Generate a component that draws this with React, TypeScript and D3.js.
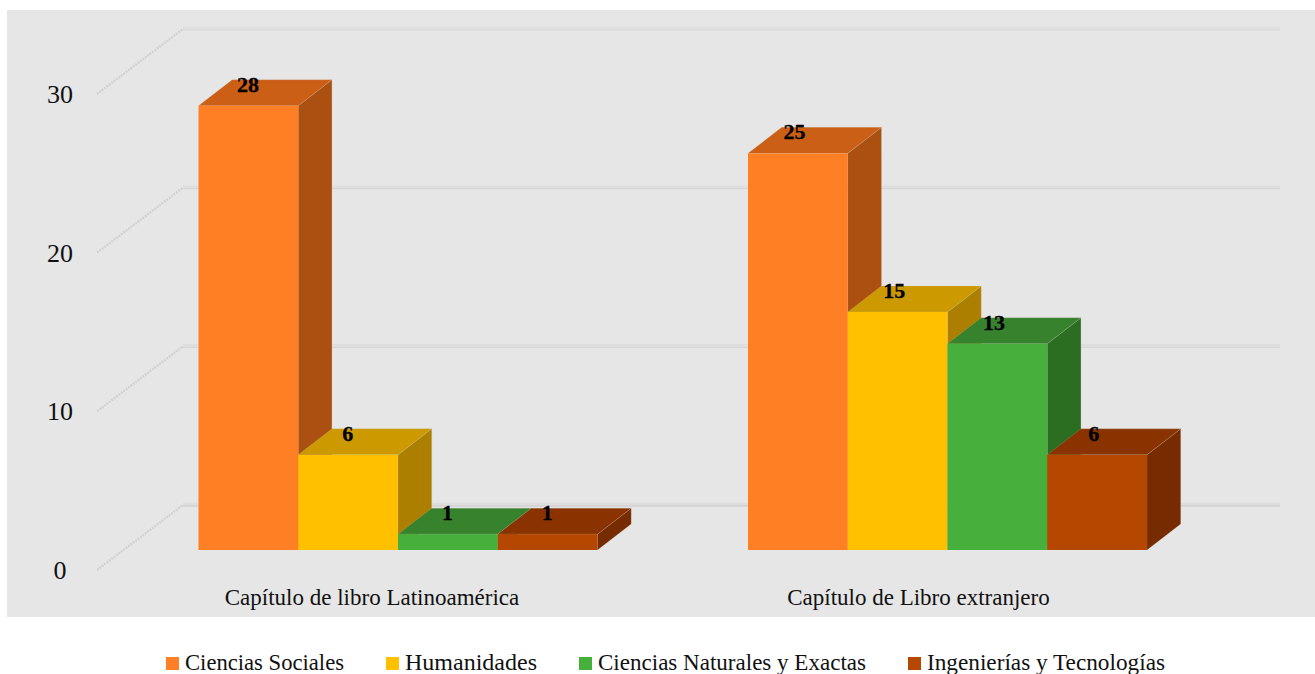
import React from "react";
import * as d3 from "d3";

const categories = ["Capítulo de libro Latinoamérica", "Capítulo de Libro extranjero"];
const seriesNames = ["Ciencias Sociales", "Humanidades", "Ciencias Naturales y Exactas", "Ingenierías y Tecnologías"];
const cienciasSociales = [28, 25];
const humanidades = [6, 15];
const cienciasNaturales = [1, 13];
const ingenierias = [1, 6];
const seriesValues = [cienciasSociales, humanidades, cienciasNaturales, ingenierias];
const yTicks = [0, 10, 20, 30];
const frontColors = ["#FF7F24", "#FFC000", "#47AF3C", "#B54700"];
const topColors = ["#CC5F16", "#CC9A00", "#37822C", "#8A3300"];
const sideColors = ["#AB5010", "#AD7F00", "#2B6E22", "#762B00"];
const legendSwatchX = [166, 386, 579, 908];
const legendTextWidths = [159, 132, 268, 238];
const labelShift = [0, -3];

const W = 1315;
const H = 674;
const FONT = "'Liberation Serif', serif";

const y = d3.scaleLinear().domain([0, 30]).range([550, 74]);
const groupX = d3.scalePoint<number>().domain([0, 1]).range([198.5, 748]);
const barX = d3.scaleBand<number>().domain([0, 1, 2, 3]).range([0, 399]).paddingInner(0).paddingOuter(0);
const depthX = 33.7;
const depthY = 26;
const catCenters = [372, 918.5];

const poly = (pts: [number, number][]) => pts.map((p) => p.join(",")).join(" ");

function Bar({ g, s }: { g: number; s: number }) {
  const v = seriesValues[s][g];
  const x0 = (groupX(g) as number) + (barX(s) as number);
  const x1 = x0 + barX.bandwidth();
  const y0 = y(0);
  const yt = y(v);
  return (
    <g>
      <polygon points={poly([[x1, yt], [x1 + depthX, yt - depthY], [x1 + depthX, y0 - depthY], [x1, y0]])} fill={sideColors[s]} stroke="#c9c0b8" strokeOpacity={0.35} strokeWidth={0.6} />
      <polygon points={poly([[x0, yt], [x0 + depthX, yt - depthY], [x1 + depthX, yt - depthY], [x1, yt]])} fill={topColors[s]} stroke="#c9c0b8" strokeOpacity={0.35} strokeWidth={0.6} />
      <rect x={x0} y={yt} width={x1 - x0} height={y0 - yt} fill={frontColors[s]} />
    </g>
  );
}

export default function App() {
  const bars: { g: number; s: number }[] = [];
  [0, 1].forEach((g) => [0, 1, 2, 3].forEach((s) => bars.push({ g, s })));
  const backY = (t: number) => y(t) - 45;
  return (
    <svg width={W} height={H} viewBox={`0 0 ${W} ${H}`} style={{ position: "absolute", left: 0, top: 0, display: "block" }}>
      <rect width={W} height={H} fill="#ffffff" />
      <rect x={7} y={10} width={W - 7} height={607} fill="#E6E6E6" />
      {yTicks.map((t) => {
        const yb = backY(t);
        const strong = t === 0;
        return (
          <g key={t}>
            <line x1={97} y1={yb + 65} x2={183} y2={yb} stroke="#d2d2d2" strokeWidth={2.4} strokeDasharray="2 1" />
            <line x1={183} y1={yb - 1} x2={1280} y2={yb - 1} stroke="#dedede" strokeWidth={2.5} />
            <line x1={183} y1={yb + 1} x2={1280} y2={yb + 1} stroke={strong ? "#c6c6c6" : "#d6d6d6"} strokeWidth={1.2} />
            <text x={60} y={yb + 65 + 9} textAnchor="middle" fontFamily={FONT} fontSize={26} fill="#111">
              {t}
            </text>
          </g>
        );
      })}
      {bars.map((b) => (
        <Bar key={`${b.g}-${b.s}`} g={b.g} s={b.s} />
      ))}
      {bars.map(({ g, s }) => {
        const v = seriesValues[s][g];
        const cx = (groupX(g) as number) + (barX(s) as number) + barX.bandwidth() / 2 - 0.5 + labelShift[g];
        return (
          <text key={`l-${g}-${s}`} x={cx} y={y(v) - depthY + 12} textAnchor="middle" fontFamily={FONT} fontWeight={700} fontSize={22} stroke="#000" strokeWidth={0.3} fill="#000">
            {v}
          </text>
        );
      })}
      {categories.map((c, i) => (
        <text key={c} x={catCenters[i]} y={605} textAnchor="middle" fontFamily={FONT} fontSize={23} fill="#111">
          {c}
        </text>
      ))}
      {seriesNames.map((n, i) => (
        <g key={n}>
          <rect x={legendSwatchX[i]} y={657} width={13} height={13} fill={frontColors[i]} />
          <text x={legendSwatchX[i] + 19} y={670} fontFamily={FONT} fontSize={22.8} fill="#111" textLength={legendTextWidths[i]} lengthAdjust="spacingAndGlyphs">
            {n}
          </text>
        </g>
      ))}
    </svg>
  );
}
